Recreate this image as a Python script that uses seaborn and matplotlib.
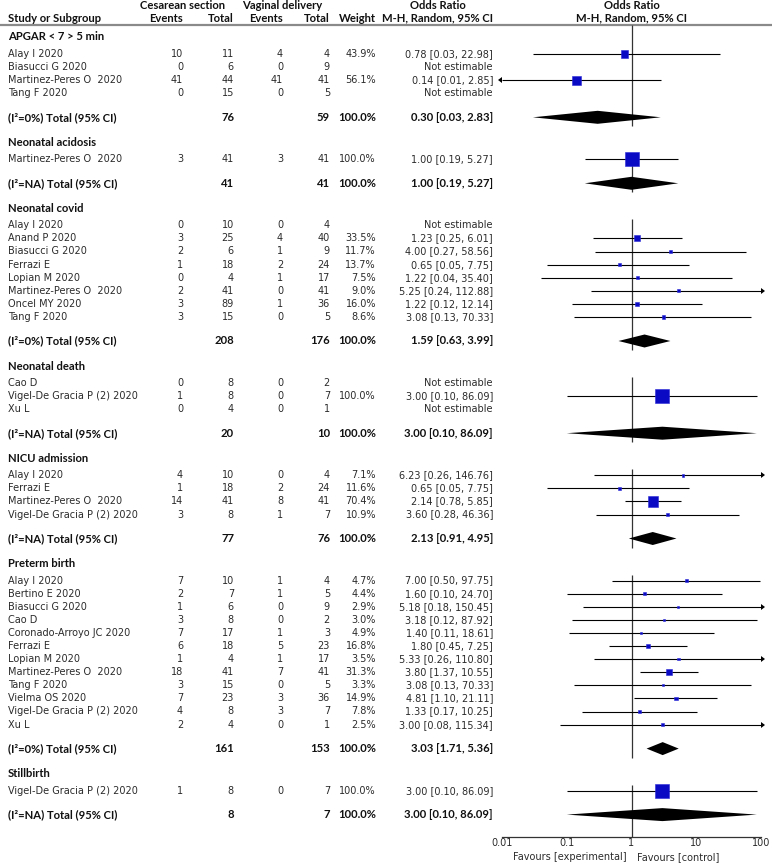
import numpy as np
import pandas as pd
import matplotlib
matplotlib.use('Agg')
import matplotlib.pyplot as plt
import seaborn as sns

nan = np.nan

# subgroup level numbers
group_names = ['APGAR < 7 > 5 min', 'Neonatal acidosis', 'Neonatal covid', 'Neonatal death',
               'NICU admission', 'Preterm birth', 'Stillbirth']
group_i2 = ['0%', 'NA', '0%', 'NA', 'NA', '0%', 'NA']
group_cs_total = [76, 41, 208, 20, 77, 161, 8]
group_vd_total = [59, 41, 176, 10, 76, 153, 7]
group_or = [0.30, 1.00, 1.59, 3.00, 2.13, 3.03, 3.00]
group_lo = [0.03, 0.19, 0.63, 0.10, 0.91, 1.71, 0.10]
group_hi = [2.83, 5.27, 3.99, 86.09, 4.95, 5.36, 86.09]

# study level numbers
study_group = [0]*4 + [1] + [2]*8 + [3]*3 + [4]*4 + [5]*12 + [6]
study_name = [
    'Alay I 2020', 'Biasucci G 2020', 'Martinez-Peres O  2020', 'Tang F 2020',
    'Martinez-Peres O  2020',
    'Alay I 2020', 'Anand P 2020', 'Biasucci G 2020', 'Ferrazi E', 'Lopian M 2020',
    'Martinez-Peres O  2020', 'Oncel MY 2020', 'Tang F 2020',
    'Cao D', 'Vigel-De Gracia P (2) 2020', 'Xu L',
    'Alay I 2020', 'Ferrazi E', 'Martinez-Peres O  2020', 'Vigel-De Gracia P (2) 2020',
    'Alay I 2020', 'Bertino E 2020', 'Biasucci G 2020', 'Cao D', 'Coronado-Arroyo JC 2020',
    'Ferrazi E', 'Lopian M 2020', 'Martinez-Peres O  2020', 'Tang F 2020', 'Vielma OS 2020',
    'Vigel-De Gracia P (2) 2020', 'Xu L',
    'Vigel-De Gracia P (2) 2020',
]
cs_events = [10, 0, 41, 0, 3, 0, 3, 2, 1, 0, 2, 3, 3, 0, 1, 0, 4, 1, 14, 3,
             7, 2, 1, 3, 7, 6, 1, 18, 3, 7, 4, 2, 1]
cs_total = [11, 6, 44, 15, 41, 10, 25, 6, 18, 4, 41, 89, 15, 8, 8, 4, 10, 18, 41, 8,
            10, 7, 6, 8, 17, 18, 4, 41, 15, 23, 8, 4, 8]
vd_events = [4, 0, 41, 0, 3, 0, 4, 1, 2, 1, 0, 1, 0, 0, 0, 0, 0, 2, 8, 1,
             1, 1, 0, 0, 1, 5, 1, 7, 0, 3, 3, 0, 0]
vd_total = [4, 9, 41, 5, 41, 4, 40, 9, 24, 17, 41, 36, 5, 2, 7, 1, 4, 24, 41, 7,
            4, 5, 9, 2, 3, 23, 17, 41, 5, 36, 7, 1, 7]
weight = [43.9, nan, 56.1, nan, 100.0, nan, 33.5, 11.7, 13.7, 7.5, 9.0, 16.0, 8.6,
          nan, 100.0, nan, 7.1, 11.6, 70.4, 10.9,
          4.7, 4.4, 2.9, 3.0, 4.9, 16.8, 3.5, 31.3, 3.3, 14.9, 7.8, 2.5, 100.0]
or_est = [0.78, nan, 0.14, nan, 1.00, nan, 1.23, 4.00, 0.65, 1.22, 5.25, 1.22, 3.08,
          nan, 3.00, nan, 6.23, 0.65, 2.14, 3.60,
          7.00, 1.60, 5.18, 3.18, 1.40, 1.80, 5.33, 3.80, 3.08, 4.81, 1.33, 3.00, 3.00]
ci_lo = [0.03, nan, 0.01, nan, 0.19, nan, 0.25, 0.27, 0.05, 0.04, 0.24, 0.12, 0.13,
         nan, 0.10, nan, 0.26, 0.05, 0.78, 0.28,
         0.50, 0.10, 0.18, 0.12, 0.11, 0.45, 0.26, 1.37, 0.13, 1.10, 0.17, 0.08, 0.10]
ci_hi = [22.98, nan, 2.85, nan, 5.27, nan, 6.01, 58.56, 7.75, 35.40, 112.88, 12.14, 70.33,
         nan, 86.09, nan, 146.76, 7.75, 5.85, 46.36,
         97.75, 24.70, 150.45, 87.92, 18.61, 7.25, 110.80, 10.55, 70.33, 21.11, 10.25, 115.34, 86.09]

df = pd.DataFrame(dict(group=study_group, name=study_name, cs_events=cs_events,
                       cs_total=cs_total, vd_events=vd_events, vd_total=vd_total,
                       weight=weight, or_est=or_est, lo=ci_lo, hi=ci_hi))

# row layout (pixel rows from the top)
W, H = 772, 867
head_y, tot_y = [], []
df['y'] = 0.0
y = 37
for g in range(len(group_names)):
    head_y.append(y)
    idx = df.index[df.group == g]
    y += 17
    for k, i in enumerate(idx):
        df.loc[i, 'y'] = y + 13.1 * k
    y = y + 13.1 * (len(idx) - 1) + 24
    tot_y.append(y)
    y += 25
axis_y = tot_y[-1] + 22
rule_y = 25

sns.set_style('white')
plt.rcParams['font.family'] = ['DejaVu Sans']
fs = 7
txt_col = '#2b2b2b'

fig = plt.figure(figsize=(W / 100, H / 100), dpi=100)
ax = fig.add_axes([0, 0, 1, 1])
ax.set_xlim(0, W)
ax.set_ylim(H, 0)
ax.axis('off')

# header
hb = dict(fontsize=8.1, fontweight='bold', family=['Lato', 'DejaVu Sans'], va='center', color='#111111')
ax.text(183, 5.5, 'Cesarean section', ha='center', **hb)
ax.text(282, 5.5, 'Vaginal delivery', ha='center', **hb)
ax.text(438, 5.5, 'Odds Ratio', ha='center', **hb)
ax.text(632, 5.5, 'Odds Ratio', ha='center', **hb)
ax.text(8, 18, 'Study or Subgroup', ha='left', **hb)
ax.text(183, 18, 'Events', ha='right', **hb)
ax.text(234, 18, 'Total', ha='right', **hb)
ax.text(283, 18, 'Events', ha='right', **hb)
ax.text(330, 18, 'Total', ha='right', **hb)
ax.text(376, 18, 'Weight', ha='right', **hb)
ax.text(493, 18, 'M-H, Random, 95% CI', ha='right', **hb)
ax.text(632, 18, 'M-H, Random, 95% CI', ha='center', **hb)
ax.plot([0, W], [rule_y, rule_y], color='#8a8a8a', lw=1.6)

# study rows
rt = dict(fontsize=fs, va='center', color=txt_col)
for _, r in df.iterrows():
    ax.text(8, r.y, r['name'], ha='left', **rt)
    ax.text(183, r.y, str(r.cs_events), ha='right', **rt)
    ax.text(234, r.y, str(r.cs_total), ha='right', **rt)
    ax.text(283, r.y, str(r.vd_events), ha='right', **rt)
    ax.text(330, r.y, str(r.vd_total), ha='right', **rt)
    if np.isnan(r.or_est):
        ax.text(493, r.y, 'Not estimable', ha='right', **rt)
    else:
        ax.text(376, r.y, f'{r.weight:.1f}%', ha='right', **rt)
        ax.text(493, r.y, f'{r.or_est:.2f} [{r.lo:.2f}, {r.hi:.2f}]', ha='right', **rt)

# subgroup headers and totals
for g in range(len(group_names)):
    ax.text(8, head_y[g], group_names[g], ha='left', **hb)
    ty = tot_y[g]
    ax.text(8, ty, f'(I²={group_i2[g]}) Total (95% CI)', ha='left', **hb)
    ax.text(234, ty, str(group_cs_total[g]), ha='right', **hb)
    ax.text(330, ty, str(group_vd_total[g]), ha='right', **hb)
    ax.text(376, ty, '100.0%', ha='right', **hb)
    ax.text(493, ty, f'{group_or[g]:.2f} [{group_lo[g]:.2f}, {group_hi[g]:.2f}]', ha='right', **hb)

ax.text(627, axis_y + 20, 'Favours [experimental]', ha='right', va='center', fontsize=fs, color=txt_col)
ax.text(637, axis_y + 20, 'Favours [control]', ha='left', va='center', fontsize=fs, color=txt_col)

# forest panel
fx0, fx1 = 502, 761
ax2 = fig.add_axes([fx0 / W, 0, (fx1 - fx0) / W, 1])
ax2.set_xscale('log')
ax2.patch.set_visible(False)

est = df.dropna(subset=['or_est']).copy()
size_map = {w: ((2 + 0.12 * w) * 0.72) ** 2 for w in est.weight.unique()}
sns.scatterplot(data=est, x='or_est', y='y', size='weight', sizes=size_map, marker='s',
                color='#0a0ac4', edgecolor='#2a2ad8', linewidth=0.4, legend=False,
                ax=ax2, zorder=4)

ax2.set_xlim(0.01, 100)
ax2.set_ylim(H, 0)
xmin, xmax = ax2.get_xlim()

ax2.hlines(est.y, est.lo.clip(lower=xmin), est.hi.clip(upper=xmax), color='black', lw=0.8, zorder=3)
right = est[est.hi > xmax]
ax2.plot(np.full(len(right), xmax), right.y, ls='none', marker=9, ms=4, mew=0,
         color='black', zorder=3, clip_on=False)
left = est[est.lo <= xmin]
ax2.plot(np.full(len(left), xmin), left.y, ls='none', marker=8, ms=4, mew=0,
         color='black', zorder=3, clip_on=False)

for g in range(len(group_names)):
    rows_g = df[df.group == g]
    top = rule_y if g == 0 else rows_g.y.min() - 6
    bot = axis_y if g == len(group_names) - 1 else tot_y[g] + 9
    ax2.vlines(1, top, bot, color='#333333', lw=0.9, zorder=2)
    ty = tot_y[g]
    ax2.fill([group_lo[g], group_or[g], group_hi[g], group_or[g]],
             [ty, ty - 6.5, ty, ty + 6.5], color='black', lw=0, zorder=3)

for s in ['top', 'left', 'right']:
    ax2.spines[s].set_visible(False)
ax2.spines['bottom'].set_position(('data', axis_y))
ax2.spines['bottom'].set_color('#333333')
ax2.spines['bottom'].set_linewidth(0.9)
ax2.set_yticks([])
ax2.set_xticks([0.01, 0.1, 1, 10, 100])
ax2.set_xticklabels(['0.01', '0.1', '1', '10', '100'])
ax2.xaxis.set_minor_locator(matplotlib.ticker.NullLocator())
ax2.tick_params(axis='x', direction='in', length=5, width=0.9, labelsize=fs, pad=1,
                colors='#333333', labelcolor=txt_col)
ax2.set_xlabel('')
ax2.set_ylabel('')

fig.savefig('out.png', dpi=100)
